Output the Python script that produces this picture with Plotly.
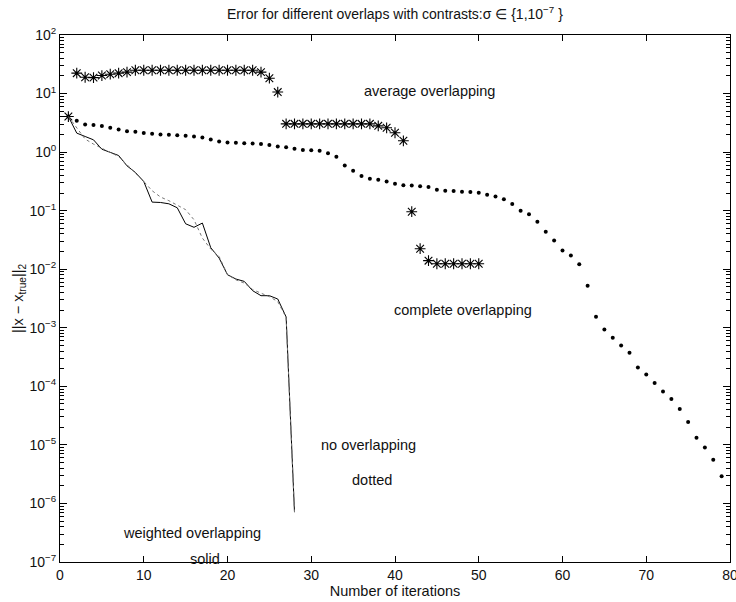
import numpy as np
import plotly.graph_objects as go

# Iteration counts for each method
iters_average = list(range(1, 51))
iters_complete = list(range(1, 80))
iters_weighted = list(range(1, 29))
iters_none = list(range(1, 29))

# ||x - x_true||_2 per iteration: average overlapping (stars)
err_average = [
    4.05, 22.3, 19.0, 18.7, 20.3, 21.4, 22.3, 23.2, 25.0, 25.0,
    25.0, 25.0, 25.0, 25.0, 25.0, 25.0, 25.0, 25.0, 25.0, 25.0,
    25.0, 25.0, 25.0, 23.2, 18.3, 10.6, 3.04, 3.04, 3.04, 3.04,
    3.04, 3.04, 3.04, 3.04, 3.04, 3.04, 3.04, 2.81, 2.6, 2.14,
    1.56, 0.096, 0.0224, 0.014, 0.0124, 0.0124, 0.0124, 0.0124, 0.0124, 0.0124,
]

# complete overlapping (dots)
err_complete = [
    4.05, 3.42, 2.96, 2.89, 2.78, 2.6, 2.43, 2.28, 2.22, 2.11,
    2.05, 2.0, 1.97, 1.95, 1.9, 1.85, 1.77, 1.64, 1.52, 1.46,
    1.44, 1.42, 1.40, 1.37, 1.32, 1.25, 1.21, 1.14, 1.09, 1.08,
    1.06, 0.96, 0.83, 0.59, 0.48, 0.39, 0.35, 0.336, 0.315, 0.288,
    0.273, 0.269, 0.261, 0.254, 0.227, 0.219, 0.216, 0.21, 0.208, 0.202,
    0.187, 0.175, 0.157, 0.13, 0.1, 0.0868, 0.0648, 0.0436, 0.031, 0.0208,
    0.0171, 0.0121, 0.0052, 0.00155, 0.000936, 0.000673, 0.000497, 0.000376, 0.000209, 0.00016,
    0.000114, 8.2e-5, 6.1e-5, 4.1e-5, 2.47e-5, 1.33e-5, 9.0e-6, 5.6e-6, 2.9e-6,
]

# weighted overlapping (solid line)
err_weighted = [
    4.05, 2.11, 1.85, 1.62, 1.12, 1.0, 0.875, 0.583, 0.449, 0.315,
    0.14, 0.138, 0.131, 0.112, 0.0597, 0.052, 0.0614, 0.0233, 0.0155, 0.00805,
    0.0068, 0.0062, 0.0043, 0.00353, 0.00353, 0.0031, 0.00153, 7.1e-7,
]

# no overlapping (dotted line)
err_none = [
    4.05, 2.57, 1.67, 1.37, 1.17, 1.01, 0.84, 0.61, 0.44, 0.315,
    0.219, 0.171, 0.148, 0.126, 0.104, 0.07, 0.034, 0.0221, 0.0165, 0.0081,
    0.0066, 0.0058, 0.0045, 0.0039, 0.0034, 0.0028, 0.0015, 7.1e-7,
]

x_ticks = [0, 10, 20, 30, 40, 50, 60, 70, 80]
y_ticks = [1e2, 1e1, 1e0, 1e-1, 1e-2, 1e-3, 1e-4, 1e-5, 1e-6, 1e-7]
y_tick_labels = [
    "10<sup>2</sup>", "10<sup>1</sup>", "10<sup>0</sup>", "10<sup>−1</sup>",
    "10<sup>−2</sup>", "10<sup>−3</sup>", "10<sup>−4</sup>", "10<sup>−5</sup>",
    "10<sup>−6</sup>", "10<sup>−7</sup>",
]
# minor log ticks at 2..9 within every decade
y_minor = [m * 10.0 ** e for e in range(-7, 2) for m in range(2, 10)]

# In-plot labels: (text, iteration, error level)
labels = [
    ("average overlapping", 36.0, 11.0),
    ("complete overlapping", 39.7, 2.0e-3),
    ("no overlapping", 30.9, 1.0e-5),
    ("dotted", 34.65, 2.5e-6),
    ("weighted overlapping", 7.25, 3.15e-7),
    ("solid", 15.3, 1.13e-7),
]

FONT = "Liberation Sans, Arial, Helvetica, sans-serif"
INK = "#111111"

fig = go.Figure()

# data drawn on the minor-tick axis as well so that it gets laid out
fig.add_trace(go.Scatter(
    x=iters_none, y=err_none, yaxis="y2", mode="lines",
    line=dict(color="#777777", width=1, dash="dot"),
    hoverinfo="skip",
))
fig.add_trace(go.Scatter(
    x=iters_weighted, y=err_weighted, mode="lines",
    line=dict(color="black", width=1),
    hoverinfo="skip",
))
fig.add_trace(go.Scatter(
    x=iters_complete, y=err_complete, mode="markers",
    marker=dict(symbol="circle", size=4, color="black", line=dict(width=0)),
    hoverinfo="skip",
))
fig.add_trace(go.Scatter(
    x=iters_average, y=err_average, mode="markers",
    marker=dict(symbol="asterisk-open", size=9, color="black",
                line=dict(color="black", width=1.1)),
    hoverinfo="skip",
))

for text, xv, yv in labels:
    fig.add_annotation(
        x=xv, y=np.log10(yv), xref="x", yref="y",
        text=text, showarrow=False, xanchor="left", yanchor="middle",
        font=dict(family=FONT, size=14.5, color=INK),
    )

fig.update_layout(
    width=736, height=602,
    margin=dict(l=60, r=6, t=35, b=40, autoexpand=False),
    plot_bgcolor="white", paper_bgcolor="white",
    showlegend=False,
    font=dict(family=FONT, size=14, color=INK),
    title=dict(
        text="Error for different overlaps with contrasts:σ ∈ {1,10<sup>−7</sup> }",
        x=0.5366, xanchor="center", y=1 - 14 / 602, yanchor="middle",
        yref="container", xref="container",
        font=dict(family=FONT, size=14, color=INK),
    ),
    yaxis2=dict(
        type="log", range=[-7, 2], overlaying="y", side="left",
        tickmode="array", tickvals=y_minor, ticktext=[""] * len(y_minor),
        ticks="inside", ticklen=4, tickwidth=1,
        tickcolor="black", showticklabels=False,
        showline=True, linecolor="black", linewidth=1, mirror="ticks",
        showgrid=False, zeroline=False, automargin=False,
    ),
)

fig.update_xaxes(
    range=[0, 80], tickvals=x_ticks, ticktext=[str(v) for v in x_ticks],
    ticks="inside", ticklen=6, tickwidth=1, tickcolor="black",
    showline=True, linecolor="black", linewidth=1, mirror="ticks",
    showgrid=False, zeroline=False, automargin=False,
    ticklabeloverflow="allow",
    title=dict(text="Number of iterations", standoff=4,
               font=dict(family=FONT, size=14.5, color=INK)),
    tickfont=dict(family=FONT, size=14, color=INK),
)

fig.update_layout(yaxis=dict(
    type="log", range=[-7, 2],
    tickvals=y_ticks, ticktext=y_tick_labels,
    ticks="inside", ticklen=7, tickwidth=1, tickcolor="black",
    showline=True, linecolor="black", linewidth=1, mirror="ticks",
    showgrid=False, zeroline=False, automargin=False,
    ticklabeloverflow="allow",
    title=dict(text="||x − x<sub>true</sub>||<sub>2</sub>", standoff=2,
               font=dict(family=FONT, size=14.5, color=INK)),
    tickfont=dict(family=FONT, size=14, color=INK),
))

fig.write_html("out.html")
